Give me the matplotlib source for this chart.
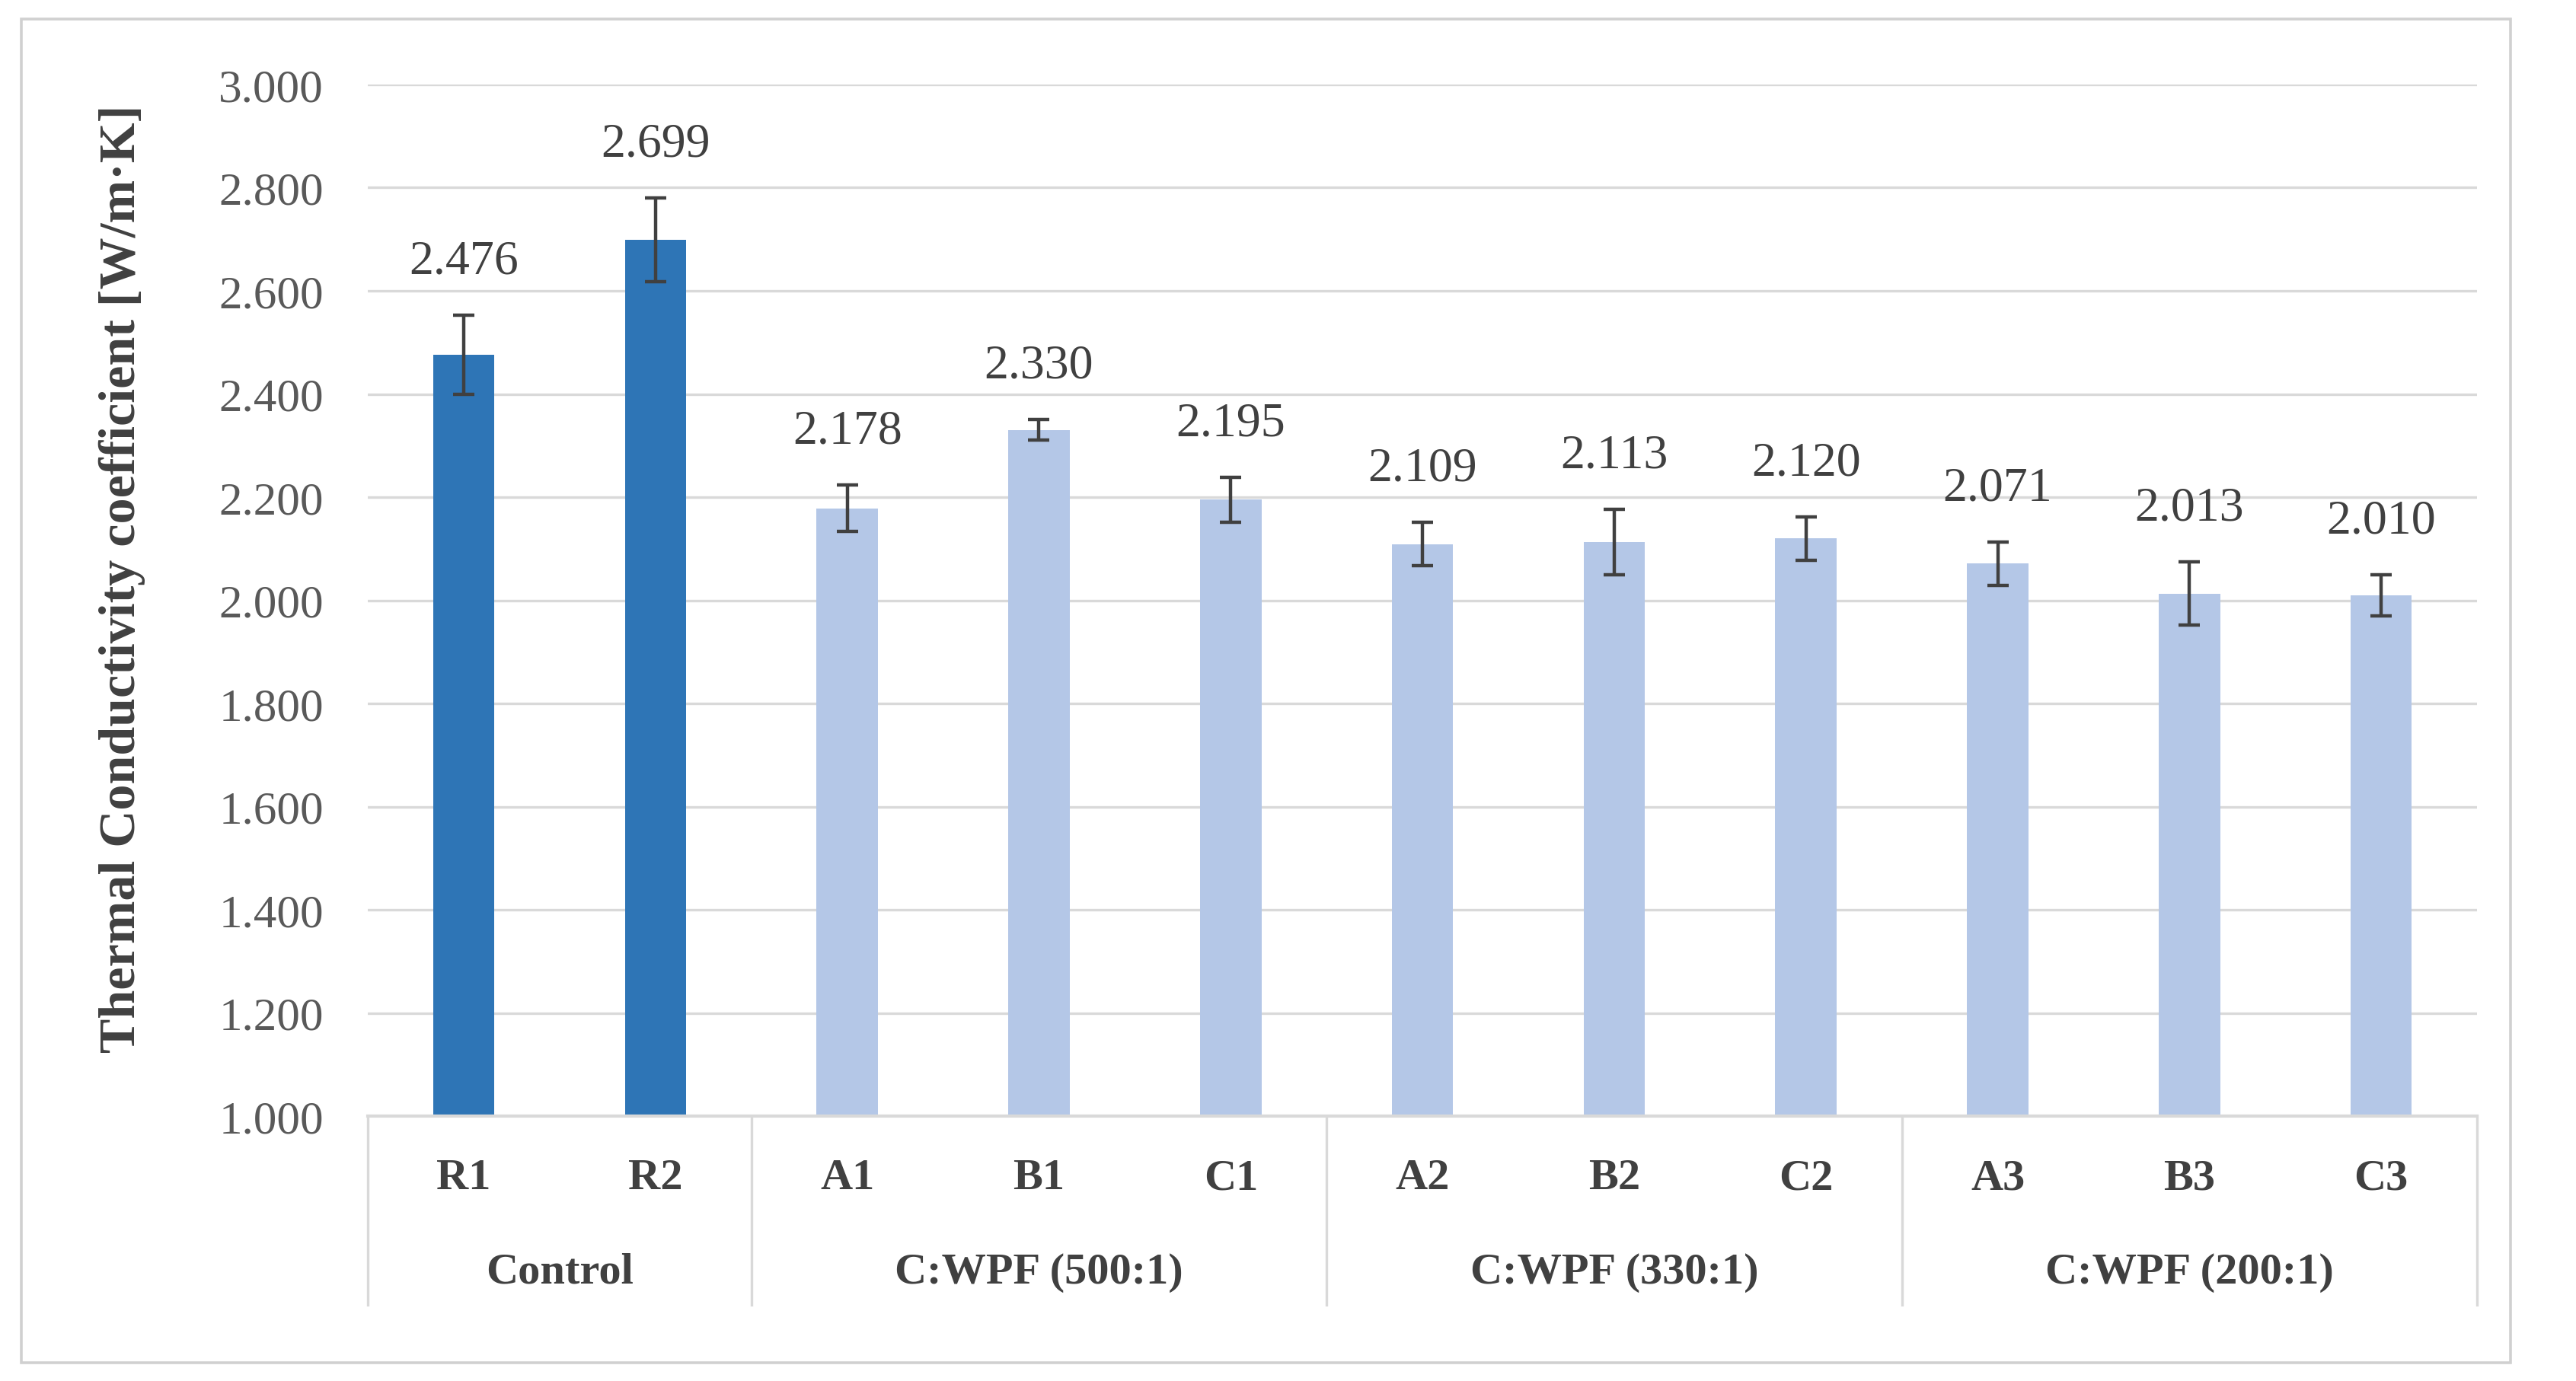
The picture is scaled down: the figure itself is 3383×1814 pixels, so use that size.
import matplotlib
matplotlib.use("Agg")
import matplotlib.pyplot as plt
import matplotlib.transforms as mtransforms
from matplotlib.patches import Rectangle
from matplotlib.ticker import FormatStrFormatter

# ── data ─────────────────────────────────────────────────────────────────────
samples = ["R1", "R2", "A1", "B1", "C1", "A2", "B2", "C2", "A3", "B3", "C3"]
conductivity = [2.476, 2.699, 2.178, 2.330, 2.195, 2.109, 2.113, 2.120, 2.071, 2.013, 2.010]
errors = [0.077, 0.081, 0.045, 0.020, 0.043, 0.042, 0.063, 0.042, 0.042, 0.061, 0.040]
groups = ["Control", "C:WPF (500:1)", "C:WPF (330:1)", "C:WPF (200:1)"]
group_sizes = [2, 3, 3, 3]

DARK = "#2E75B6"
LIGHT = "#B4C7E7"
GRID = "#D9D9D9"
TEXT = "#404040"

plt.rcParams["font.family"] = ["Liberation Serif", "DejaVu Serif"]

fig = plt.figure(figsize=(3383 / 200, 1815 / 200), dpi=200)
ax = fig.add_axes([0.1428, 0.1917, 0.8188, 0.7466])

x = list(range(len(samples)))
colors = [DARK] * group_sizes[0] + [LIGHT] * (len(samples) - group_sizes[0])
ax.bar(x, conductivity, width=0.32, color=colors, zorder=2)
ax.errorbar(x, conductivity, yerr=errors, fmt="none", ecolor=TEXT,
            elinewidth=1.6, capsize=5, capthick=1.6, zorder=3)

for xi, v, e in zip(x, conductivity, errors):
    ax.annotate(f"{v:.3f}", xy=(xi, v + e), xytext=(0, 20), textcoords="offset points",
                ha="center", va="baseline", fontsize=23, color=TEXT)

ax.set_xlim(-0.5, len(samples) - 0.5)
ax.set_ylim(1.0, 3.0)
ax.set_yticks([1.0 + 0.2 * i for i in range(11)])
ax.yaxis.set_major_formatter(FormatStrFormatter("%.3f"))
ax.tick_params(axis="y", length=0, pad=21, labelsize=22, labelcolor="#595959")
ax.set_xticks([])
ax.grid(axis="y", color=GRID, linewidth=1.2, zorder=0)
for side in ["left", "right", "top"]:
    ax.spines[side].set_visible(False)
ax.spines["bottom"].set_color(GRID)
ax.spines["bottom"].set_linewidth(1.5)

# two-level category axis
trans = mtransforms.blended_transform_factory(ax.transData, ax.transAxes)
for xi, name in zip(x, samples):
    ax.text(xi, -0.06, name, transform=trans, ha="center", va="center",
            fontsize=21, fontweight="bold", color=TEXT)

start = -0.5
for name, n in zip(groups, group_sizes):
    ax.text(start + n / 2, -0.151, name, transform=trans, ha="center", va="center",
            fontsize=21, fontweight="bold", color=TEXT)
    start += n
edges = [-0.5]
for n in group_sizes:
    edges.append(edges[-1] + n)
for ex in edges:
    ax.plot([ex, ex], [0, -0.183], transform=trans, color=GRID, linewidth=1.2, clip_on=False)

fig.text(0.0475, 0.581, "Thermal Conductivity coefficient [W/m·K]", rotation=90,
         ha="center", va="center", fontsize=24.5, fontweight="bold", color=TEXT)

fig.patches.append(Rectangle((0.0083, 0.0132), 0.9663, 0.9725, transform=fig.transFigure,
                             fill=False, edgecolor="#D0D0D0", linewidth=1.3))

fig.savefig("out.png", dpi=200)
